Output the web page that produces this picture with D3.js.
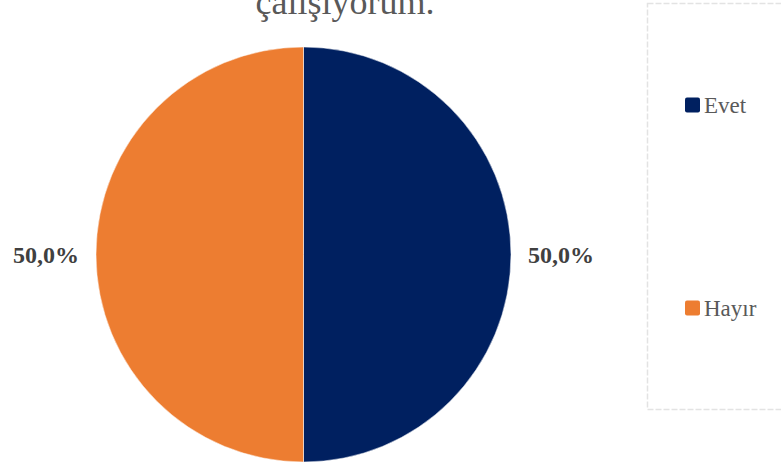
<!DOCTYPE html>
<html>
<head>
<meta charset="utf-8">
<script src="https://cdn.jsdelivr.net/npm/d3@7"></script>
<style>
  body { margin: 0; background: #fff; }
  svg { display: block; font-family: "Liberation Serif", "Times New Roman", serif; }
</style>
</head>
<body>
<div class="chart"></div>
<script>
var categories = ["Evet", "Hayır"];
var values = [50, 50];
var colors = ["#002060", "#ED7D31"];
var titleText = "çalışıyorum.";

var width = 781, height = 465;
var cx = 303.5, cy = 254.5, radius = 207.5;

var trLocale = d3.formatLocale({ decimal: ",", thousands: ".", grouping: [3], currency: ["", " ₺"] });
var fmtPct = trLocale.format(".1%");

var svg = d3.select(".chart").append("svg")
    .attr("width", width)
    .attr("height", height);

// title (first line sits above the visible area, as in the original)
svg.append("text")
    .attr("x", 345)
    .attr("y", 14)
    .attr("text-anchor", "middle")
    .style("font-size", "36px")
    .style("fill", "#595959")
    .text(titleText);

var total = d3.sum(values);
var data = categories.map(function(c, i) { return { name: c, value: values[i] }; });

var color = d3.scaleOrdinal().domain(categories).range(colors);

var pie = d3.pie()
    .sort(null)
    .value(function(d) { return d.value; });

var arc = d3.arc()
    .innerRadius(0)
    .outerRadius(radius);

var g = svg.append("g")
    .attr("transform", "translate(" + cx + "," + cy + ")");

var arcs = pie(data);

g.selectAll(".slice")
    .data(arcs)
  .enter().append("path")
    .attr("class", "slice")
    .attr("d", arc)
    .style("fill", function(d) { return color(d.data.name); })
    .style("stroke", "#fff")
    .style("stroke-width", 0.5);

// data labels outside the pie
var labelArc = d3.arc().innerRadius(radius + 50).outerRadius(radius + 50);

g.selectAll(".label")
    .data(arcs)
  .enter().append("text")
    .attr("class", "label")
    .attr("transform", function(d) {
      var p = labelArc.centroid(d);
      return "translate(" + p[0] + "," + (p[1] + 8.5) + ")";
    })
    .attr("text-anchor", "middle")
    .style("font-size", "24px")
    .style("font-weight", "bold")
    .style("fill", "#404040")
    .text(function(d) { return fmtPct(d.data.value / total); });

// legend box
svg.append("rect")
    .attr("x", 647.5)
    .attr("y", 3.5)
    .attr("width", 160)
    .attr("height", 406)
    .style("fill", "none")
    .style("stroke", "#e3e3e3")
    .style("stroke-width", 1.5)
    .style("stroke-dasharray", "6,2");

var legendY = d3.scalePoint().domain(categories).range([105, 308]);

var legend = svg.selectAll(".legend")
    .data(categories)
  .enter().append("g")
    .attr("class", "legend")
    .attr("transform", function(d) { return "translate(685," + legendY(d) + ")"; });

legend.append("rect")
    .attr("x", 0)
    .attr("y", -7.5)
    .attr("width", 15)
    .attr("height", 15)
    .attr("rx", 2)
    .style("fill", color);

legend.append("text")
    .attr("x", 19)
    .attr("y", 7.5)
    .style("font-size", "23px")
    .style("fill", "#595959")
    .text(function(d) { return d; });
</script>
</body>
</html>
